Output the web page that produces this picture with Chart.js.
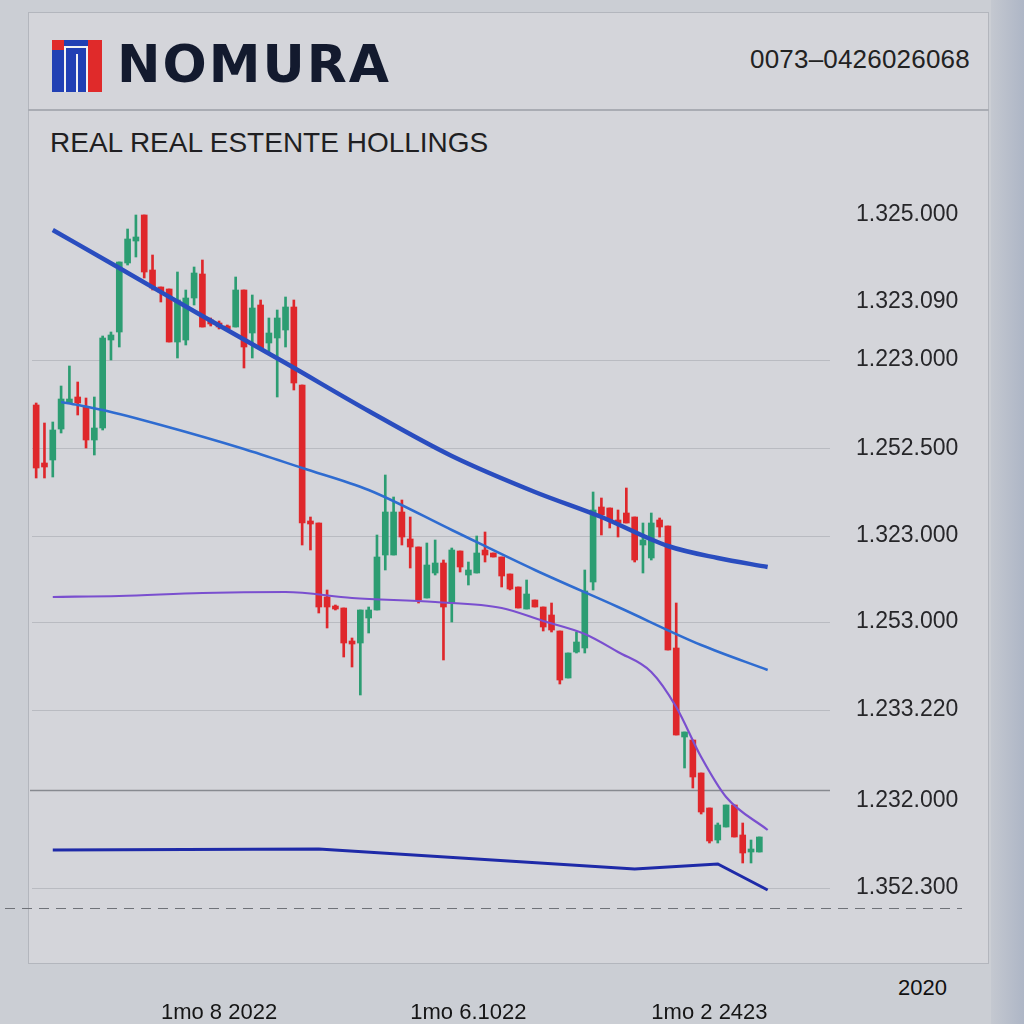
<!DOCTYPE html>
<html>
<head>
<meta charset="utf-8">
<script src="https://cdn.jsdelivr.net/npm/chart.js@4.4.1/dist/chart.umd.min.js"></script>
<style>
  html, body { margin: 0; padding: 0; }
  body { width: 1024px; height: 1024px; position: relative; overflow: hidden;
         background: #cbced4; font-family: "Liberation Sans", Arial, sans-serif; }
  #side { position: absolute; left: 991px; top: 0; width: 33px; height: 1024px;
          background: linear-gradient(to right, #c4c8d0, #aeb6c6); }
  #card { position: absolute; left: 28px; top: 12px; width: 961px; height: 952px;
          background: #d4d5da; border: 1.5px solid #b3b6bd; box-sizing: border-box; }
  #sep { position: absolute; left: 28px; top: 109px; width: 961px; height: 1.5px; background: #a9acb3; }
  #logo { position: absolute; left: 52px; top: 40px; width: 50px; height: 52px; background: #2140b4; overflow: hidden; }
  #logo div { position: absolute; }
  #brand { position: absolute; left: 117px; top: 34px; font: bold 52px "DejaVu Sans", sans-serif;
           letter-spacing: 2px; color: #131a2e; }
  #phone { position: absolute; left: 750px; top: 44px; font-size: 26px; color: #222; letter-spacing: 0.2px; }
  #title { position: absolute; left: 50px; top: 127px; font-size: 28px; color: #1f1f22; }
  #yr { position: absolute; left: 898px; top: 975px; font-size: 22px; color: #111; }
  canvas { position: absolute; left: 0; top: 0; }
</style>
</head>
<body>
<div id="side"></div>
<div id="card"></div>
<div id="sep"></div>
<div id="logo">
  <div style="left:0;top:0;width:12px;height:10px;background:#e02a2a"></div>
  <div style="left:36px;top:0;width:14px;height:52px;background:#e02a2a"></div>
  <div style="left:12px;top:6px;width:2px;height:46px;background:#f2f2f2"></div>
  <div style="left:24px;top:14px;width:2px;height:38px;background:#f2f2f2"></div>
  <div style="left:12px;top:6px;width:24px;height:2px;background:#f2f2f2"></div>
  <div style="left:34px;top:6px;width:2px;height:46px;background:#f2f2f2"></div>
</div>
<div id="brand">NOMURA</div>
<div id="phone">0073–0426026068</div>
<div id="title">REAL REAL ESTENTE HOLLINGS</div>
<div id="yr">2020</div>
<canvas id="chart" width="1024" height="1024"></canvas>
<script>
// candles (open, close, high, low)
const candleOpen = [53.5,47.7,48.0,51.1,53.7,54.3,53.3,50.0,51.2,60.0,60.8,67.7,69.9,72.5,67.0,65.3,65.1,59.8,60.0,64.2,
  66.6,62.0,61.7,61.4,61.3,65.0,60.7,63.5,59.7,60.2,61.0,63.3,55.5,41.9,41.7,34.3,33.4,33.2,29.9,29.7,
  32.2,33.0,38.5,38.5,42.8,40.1,39.3,34.2,36.7,37.7,33.7,38.9,36.5,36.7,39.0,38.7,38.3,36.6,35.3,33.1,
  34.0,33.3,32.5,30.9,26.2,28.8,29.2,35.8,43.3,43.2,42.0,42.7,42.3,39.5,38.2,42.0,41.4,29.2,20.3,20.0,
  16.7,13.2,10.0,11.3,13.5,10.5,8.8,8.8];
const candleClose = [47.2,47.3,51.0,54.1,54.1,53.7,50.0,51.2,60.2,60.5,67.8,70.1,70.3,66.8,65.2,64.8,59.8,64.0,64.2,66.7,
  61.3,61.6,61.3,61.1,65.0,59.3,63.2,59.2,60.7,62.2,63.3,55.7,41.7,41.6,33.3,33.3,33.1,29.7,29.6,33.0,
  33.0,38.3,42.8,42.8,40.3,39.3,34.0,37.5,37.7,33.3,39.0,37.3,37.0,38.7,38.5,38.3,36.4,35.1,33.2,34.6,
  33.3,31.3,31.0,26.0,28.7,29.8,34.9,43.0,42.5,42.0,41.7,41.7,38.0,40.0,41.7,41.3,29.0,20.5,20.8,16.3,
  12.8,9.9,11.5,13.5,10.3,8.7,9.1,10.3];
const candleHigh = [53.7,51.7,51.8,55.4,57.4,55.8,54.2,54.3,60.4,60.8,67.8,71.1,72.5,72.5,68.5,65.3,65.1,66.8,65.0,67.3,
  68.0,62.2,61.9,61.5,66.3,65.0,64.5,64.0,62.2,63.0,64.3,64.0,55.5,42.3,41.7,35.0,33.5,33.2,30.2,33.0,
  33.3,40.5,46.5,44.3,44.0,42.3,39.3,39.7,40.0,38.0,39.2,38.9,37.8,40.4,40.8,38.7,38.3,36.6,35.3,36.0,
  34.0,33.3,33.7,30.9,28.7,30.8,37.0,44.8,44.2,43.2,43.0,45.2,42.3,41.7,42.7,42.2,41.4,33.7,20.8,20.0,
  16.7,13.2,11.7,13.5,13.5,11.7,10.0,10.3];
const candleLow = [46.2,46.2,46.3,50.7,53.7,52.5,49.2,48.5,51.0,58.0,59.3,67.5,68.3,66.2,65.0,63.8,59.8,58.2,59.5,63.5,
  61.3,61.4,61.1,61.0,61.3,57.2,58.2,59.2,58.8,54.3,59.3,55.0,39.5,39.0,32.7,31.2,33.0,28.3,27.3,24.5,
  30.7,33.0,37.0,38.5,39.5,37.2,33.7,34.2,36.5,28.0,31.8,36.8,35.5,36.7,37.8,38.3,35.3,35.0,33.2,33.1,
  33.3,30.9,30.8,25.6,26.2,28.7,28.7,35.0,40.5,41.2,40.3,41.7,37.8,36.7,38.0,40.3,29.0,20.5,17.2,15.2,
  12.6,9.7,9.7,11.3,10.3,7.7,7.7,8.8];

// moving-average lines, sampled points (candle index, value)
const maSlowIdx = [2, 10, 20, 30, 40, 50, 60, 68, 76, 82, 88];
const maSlowVal = [71.0, 67.2, 62.4, 57.7, 52.9, 48.4, 44.8, 42.3, 39.4, 38.2, 37.3];
const maMidIdx = [3, 5, 8, 15, 25, 32, 40, 50, 60, 70, 80, 88];
const maMidVal = [53.8, 53.5, 53.0, 51.5, 49.1, 47.2, 45.0, 41.0, 37.0, 33.3, 29.5, 27.0];
const maFastIdx = [2, 10, 20, 30, 38, 48, 56, 61, 66, 70, 74, 77, 80, 83, 88];
const maFastVal = [34.3, 34.4, 34.7, 34.8, 34.2, 33.8, 33.2, 31.9, 30.6, 28.8, 26.8, 23.3, 18.3, 14.3, 11.0];
const baseIdx = [2, 34, 72, 82, 88];
const baseVal = [9.0, 9.1, 7.1, 7.6, 5.0];

// axis labels
const xLabelIdx = [22, 52, 81];
const xLabelText = ['1mo 8 2022', '1mo 6.1022', '1mo 2 2423'];
const yTickValues = [72.5, 63.8, 58.0, 49.1, 40.4, 31.8, 23.0, 13.9, 5.2];
const yTickLabels = ['1.325.000', '1.323.090', '1.223.000', '1.252.500', '1.323.000',
  '1.253.000', '1.233.220', '1.232.000', '1.352.300'];
const hiddenGrid = [0, 1, 7];
const refSolid = 15.0;
const refDashed = 3.2;

const SLOTS = 96;
const labels = Array.from({ length: SLOTS }, (_, i) => i);

function sparse(idx, val) {
  const out = new Array(SLOTS).fill(null);
  idx.forEach((k, j) => { out[k] = val[j]; });
  return out;
}

const RED = '#df272b';
const GREEN = '#2c9d72';
const up = candleOpen.map((o, i) => candleClose[i] >= o);
const colors = up.map(u => u ? GREEN : RED);

const bodies = candleOpen.map((o, i) => {
  let a = Math.min(o, candleClose[i]), b = Math.max(o, candleClose[i]);
  if (b - a < 0.3) { b = a + 0.3; }
  return [a, b];
});
const wicks = candleLow.map((l, i) => [l, candleHigh[i]]);

const refLinesPlugin = {
  id: 'refLines',
  beforeDatasetsDraw(chart) {
    const ctx = chart.ctx;
    const y = chart.scales.y;
    const area = chart.chartArea;
    ctx.save();
    let py = Math.round(y.getPixelForValue(refSolid)) + 0.5;
    ctx.strokeStyle = '#878a90';
    ctx.lineWidth = 1.5;
    ctx.beginPath();
    ctx.moveTo(area.left - 2, py);
    ctx.lineTo(area.right, py);
    ctx.stroke();
    py = Math.round(y.getPixelForValue(refDashed)) + 0.5;
    ctx.strokeStyle = '#6f7278';
    ctx.lineWidth = 1.2;
    ctx.setLineDash([10, 7]);
    ctx.beginPath();
    ctx.moveTo(5, py);
    ctx.lineTo(962, py);
    ctx.stroke();
    ctx.restore();
  }
};

new Chart(document.getElementById('chart'), {
  type: 'bar',
  data: {
    labels: labels,
    datasets: [
      { type: 'line', data: sparse(maSlowIdx, maSlowVal), borderColor: '#2a4dbf', borderWidth: 4.5,
        pointRadius: 0, spanGaps: true, tension: 0.4, cubicInterpolationMode: 'monotone', order: 0 },
      { type: 'line', data: sparse(maMidIdx, maMidVal), borderColor: '#2f6cd0', borderWidth: 2.5,
        pointRadius: 0, spanGaps: true, cubicInterpolationMode: 'monotone', order: 0 },
      { type: 'line', data: sparse(maFastIdx, maFastVal), borderColor: '#7a4fcf', borderWidth: 2.2,
        pointRadius: 0, spanGaps: true, cubicInterpolationMode: 'monotone', order: 0 },
      { type: 'line', data: sparse(baseIdx, baseVal), borderColor: '#1e2aa8', borderWidth: 3,
        pointRadius: 0, spanGaps: true, tension: 0, order: 0 },
      { data: wicks, backgroundColor: colors, barThickness: 2, grouped: false, order: 2 },
      { data: bodies, backgroundColor: colors, barThickness: 6, grouped: false, order: 1 }
    ]
  },
  options: {
    responsive: false,
    animation: false,
    events: [],
    layout: { padding: { left: 32, top: 180, right: 0, bottom: 0 } },
    plugins: { legend: { display: false }, tooltip: { enabled: false } },
    scales: {
      x: {
        grid: { display: false },
        border: { display: false },
        afterFit(scale) { scale.height = 84; scale.paddingLeft = 0; scale.paddingRight = 0; },
        ticks: {
          autoSkip: false, maxRotation: 0, padding: 52,
          color: '#151515', font: { family: '"Liberation Sans", Arial', size: 22 },
          callback: (v, i) => { const k = xLabelIdx.indexOf(i); return k >= 0 ? xLabelText[k] : ''; }
        }
      },
      y: {
        position: 'right',
        min: 0, max: 76,
        afterFit(scale) { scale.width = 194; },
        afterBuildTicks(scale) { scale.ticks = yTickValues.map(v => ({ value: v })); },
        border: { display: false },
        grid: {
          drawTicks: false,
          lineWidth: 1,
          color: c => hiddenGrid.includes(c.index) ? 'rgba(0,0,0,0)' : '#b9bbc1'
        },
        ticks: {
          padding: 26,
          color: '#262629',
          font: { family: '"Liberation Sans", Arial', size: 23 },
          callback: (v, i) => yTickLabels[i]
        }
      }
    }
  },
  plugins: [refLinesPlugin]
});
</script>
</body>
</html>
